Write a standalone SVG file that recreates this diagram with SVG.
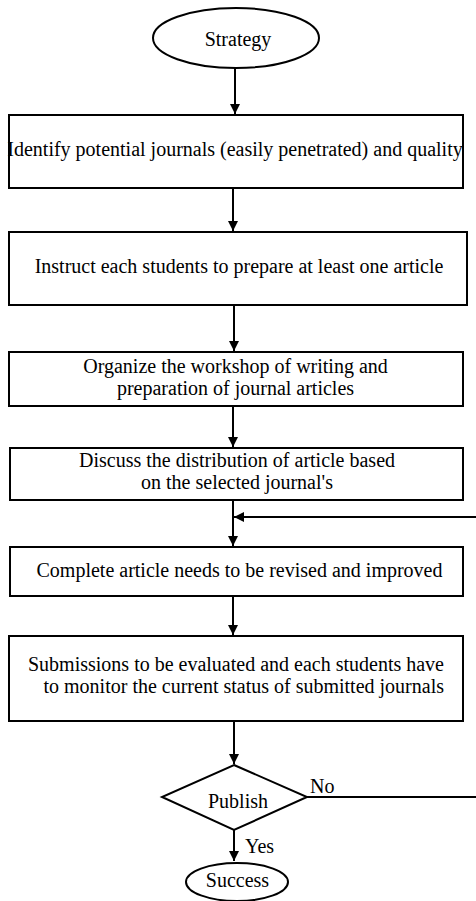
<svg xmlns="http://www.w3.org/2000/svg" width="476" height="901" viewBox="0 0 476 901">
<defs>
<style>
.n{fill:#fff;stroke:#000;stroke-width:2}
.t{font-family:"Liberation Serif","Times New Roman",serif;font-size:20px;fill:#000;text-anchor:middle}
.c{fill:none;stroke:#000;stroke-width:2}
</style>
<marker id="ah" viewBox="0 0 10 10" refX="10" refY="5" markerWidth="10" markerHeight="10" markerUnits="userSpaceOnUse" orient="auto">
<path d="M0,0 L10,5 L0,10 Z" fill="#000"/>
</marker>
</defs>
<rect width="476" height="901" fill="#fff"/>
<g id="connectors">
<path class="c" d="M235,68 V114" marker-end="url(#ah)"/>
<path class="c" d="M233,188 V231" marker-end="url(#ah)"/>
<path class="c" d="M234,305 V351" marker-end="url(#ah)"/>
<path class="c" d="M233,406 V447" marker-end="url(#ah)"/>
<path class="c" d="M233,500 V546" marker-end="url(#ah)"/>
<path class="c" d="M233,596 V635" marker-end="url(#ah)"/>
<path class="c" d="M234,721 V764" marker-end="url(#ah)"/>
<path class="c" d="M234,830 V861" marker-end="url(#ah)"/>
<path class="c" d="M307,797 H478 V517 H234" marker-end="url(#ah)"/>
<text class="t" x="310" y="793" style="text-anchor:start">No</text>
<text class="t" x="245" y="853" style="text-anchor:start">Yes</text>
</g>
<g id="strategy">
<ellipse class="n" cx="236" cy="38" rx="83" ry="30"/>
<text class="t" x="238" y="46">Strategy</text>
</g>
<g id="identify">
<rect class="n" x="9" y="115" width="454" height="73"/>
<text class="t" x="235" y="156">Identify potential journals (easily penetrated) and quality</text>
</g>
<g id="instruct">
<rect class="n" x="9" y="232" width="458" height="73"/>
<text class="t" x="239" y="273">Instruct each students to prepare at least one article</text>
</g>
<g id="organize">
<rect class="n" x="9" y="352" width="454" height="54"/>
<text class="t" x="235.5" y="373">Organize the workshop of writing and</text>
<text class="t" x="235.5" y="395">preparation of journal articles</text>
</g>
<g id="discuss">
<rect class="n" x="10" y="448" width="453" height="52"/>
<text class="t" x="237" y="467">Discuss the distribution of article based</text>
<text class="t" x="237" y="489">on the selected journal's</text>
</g>
<g id="complete">
<rect class="n" x="10" y="547" width="453" height="49"/>
<text class="t" x="239.5" y="577">Complete article needs to be revised and improved</text>
</g>
<g id="submissions">
<rect class="n" x="9" y="636" width="454" height="85"/>
<text class="t" x="444" y="671" style="text-anchor:end">Submissions to be evaluated and each students have</text>
<text class="t" x="444" y="693" style="text-anchor:end">to monitor the current status of submitted journals</text>
</g>
<g id="publish">
<polygon class="n" points="234,765 307,797 234,830 162,797"/>
<text class="t" x="238" y="808">Publish</text>
</g>
<g id="success">
<ellipse class="n" cx="237" cy="882" rx="51" ry="19"/>
<text class="t" x="237.5" y="887">Success</text>
</g>
</svg>
